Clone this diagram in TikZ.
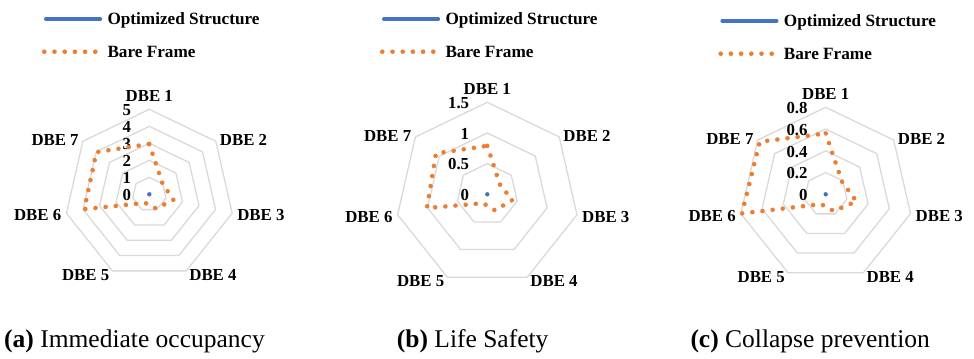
\documentclass[tikz,border=0pt]{standalone}
\usepackage{fontspec}
\setmainfont{Liberation Serif}
\usetikzlibrary{calc,decorations.markings}
\definecolor{orng}{HTML}{ED7D31}
\definecolor{blu}{HTML}{4472C4}
\definecolor{ringgray}{HTML}{D9D9D9}
\tikzset{
 lbl/.style={font=\fontsize{16.8bp}{18bp}\selectfont\bfseries, inner sep=0pt},
 ticklbl/.style={lbl, anchor=east},
 ring/.style={draw=ringgray, line width=1.3bp},
 bareline/.style={postaction={decorate}, decoration={markings, mark=between positions 0 and 1 step 10.2bp with {\fill[orng] (0,0) circle (2.3bp);}}},
 optline/.style={draw=blu, line width=3.6bp, line cap=round},
 legtext/.style={font=\fontsize{17.2bp}{19bp}\selectfont\bfseries, inner sep=0pt, anchor=base west},
 captext/.style={font=\fontsize{25.5bp}{28bp}\selectfont, inner sep=0pt, anchor=base west},
}
\newcommand\myradar[8]{%
\begin{scope}[shift={(#1,163.7)}]
 \foreach \r in {1,...,#3}
   \draw[ring] (90:{#2*\r/#3}) \foreach \k in {1,...,6}{ -- ({90-\k*360/7}:{#2*\r/#3}) } -- cycle;
 \foreach \t [count=\i from 0] in {#4}
   \node[ticklbl] (#7t\i) at (-18,{#2*\i/#3-0.8}) {\t};
 \foreach \i/\anc/\dx/\dy in {1/south/0/7.5, 2/west/4/1, 3/west/5/-2, 4/west/3/-4, 5/east/-3/-4, 6/east/-5/-2, 7/east/-4/1}
   \node[lbl, anchor=\anc] (#7l\i) at ($({90-(\i-1)*360/7}:#2)+(\dx,\dy)$) {DBE \i};
 \foreach \v [count=\i from 0] in {#5}
   \coordinate (#7d\i) at ({90-\i*360/7}:{#2*\v/#6});
 \path[bareline] (#7d0) -- (#7d1) -- (#7d2) -- (#7d3) -- (#7d4) -- (#7d5) -- (#7d6) -- cycle;
 \fill[blu] (0,0) circle (2.2);
 \coordinate (#7o1) at (-103.5,{175.3+#8});
 \coordinate (#7o2) at (-49,{175.3+#8});
 \draw[optline] (#7o1) -- (#7o2);
 \coordinate (#7b1) at (-105,{142.6+#8});
 \coordinate (#7b2) at (-51.5,{142.6+#8});
 \path[bareline] (#7b1) -- (#7b2);
 \node[legtext] (#7lo) at (-42,{169.7+#8}) {Optimized Structure};
 \node[legtext] (#7lb) at (-42,{137+#8}) {Bare Frame};
\end{scope}}
\begin{document}
\begin{tikzpicture}[x=1bp,y=1bp]
\useasboundingbox (0,0) rectangle (974,358);
\myradar{149.3}{85}{5}{0,1,2,3,4,5}{2.96,1.0,1.45,0.93,0.56,3.92,3.98}{5}{a}{0}
\myradar{487.3}{92}{3}{0,0.5,1,1.5}{0.79,0.26,0.42,0.29,0.16,1.01,1.07}{1.5}{b}{0}
\myradar{825.7}{87}{4}{0,0.2,0.4,0.6,0.8}{0.56,0.19,0.29,0.17,0.10,0.79,0.775}{0.8}{c}{-2}
\node[captext] (capa) at (4,10.3) {\textbf{(a)} Immediate occupancy};
\node[captext] (capb) at (396.7,10.3) {\textbf{(b)} Life Safety};
\node[captext] (capc) at (690.3,10.3) {\textbf{(c)} Collapse prevention};
\end{tikzpicture}
\end{document}
